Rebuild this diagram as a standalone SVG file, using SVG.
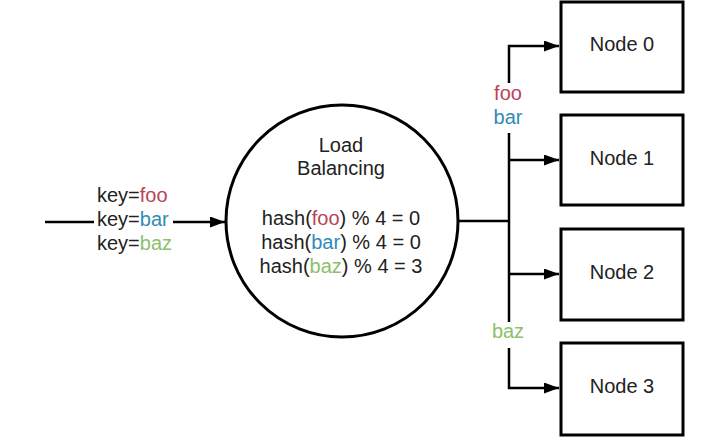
<svg xmlns="http://www.w3.org/2000/svg" width="715" height="443" viewBox="0 0 715 443">
<style>
text{font-family:"Liberation Sans",Arial,sans-serif;font-size:20px;fill:#222}
.m{text-anchor:middle}
.foo{fill:#b84455}
.bar{fill:#2f8cb5}
.baz{fill:#8cbf6c}
.ln{stroke:#000;stroke-width:2.5;fill:none}
.box{stroke:#000;stroke-width:3;fill:#fff}
</style>
<defs>
<marker id="ah" markerWidth="15" markerHeight="11" refX="15" refY="5.5" orient="auto" markerUnits="userSpaceOnUse">
<path d="M0,0 L15,5.5 L0,11 Z" fill="#000"/>
</marker>
</defs>
<rect width="715" height="443" fill="#fff"/>
<g id="connectors">
<path class="ln" d="M45,222 H94"/>
<path class="ln" d="M173,222 H225" marker-end="url(#ah)"/>
<path class="ln" d="M458,221 H509"/>
<path class="ln" d="M509,83 V46 H559" marker-end="url(#ah)"/>
<path class="ln" d="M509,133 V322"/>
<path class="ln" d="M509,160 H559" marker-end="url(#ah)"/>
<path class="ln" d="M509,274 H559" marker-end="url(#ah)"/>
<path class="ln" d="M509,348 V388 H559" marker-end="url(#ah)"/>
</g>
<g id="input-keys">
<text x="97" y="202">key=<tspan class="foo">foo</tspan></text>
<text x="97" y="226">key=<tspan class="bar">bar</tspan></text>
<text x="97" y="250">key=<tspan class="baz">baz</tspan></text>
</g>
<g id="load-balancing">
<circle cx="342" cy="221" r="116" class="box"/>
<text class="m" x="341" y="152">Load</text>
<text class="m" x="341" y="175">Balancing</text>
<text class="m" x="341" y="225">hash(<tspan class="foo">foo</tspan>) % 4 = 0</text>
<text class="m" x="341" y="249">hash(<tspan class="bar">bar</tspan>) % 4 = 0</text>
<text class="m" x="341" y="273">hash(<tspan class="baz">baz</tspan>) % 4 = 3</text>
</g>
<g id="branch-labels">
<text class="m foo" x="508" y="100">foo</text>
<text class="m bar" x="508" y="124">bar</text>
<text class="m baz" x="508" y="338">baz</text>
</g>
<g id="node0"><rect class="box" x="561" y="2" width="122" height="90"/><text class="m" x="622" y="51">Node 0</text></g>
<g id="node1"><rect class="box" x="561" y="115" width="122" height="90"/><text class="m" x="622" y="165">Node 1</text></g>
<g id="node2"><rect class="box" x="561" y="229" width="122" height="91"/><text class="m" x="622" y="279">Node 2</text></g>
<g id="node3"><rect class="box" x="561" y="343" width="122" height="92"/><text class="m" x="622" y="393">Node 3</text></g>
</svg>
